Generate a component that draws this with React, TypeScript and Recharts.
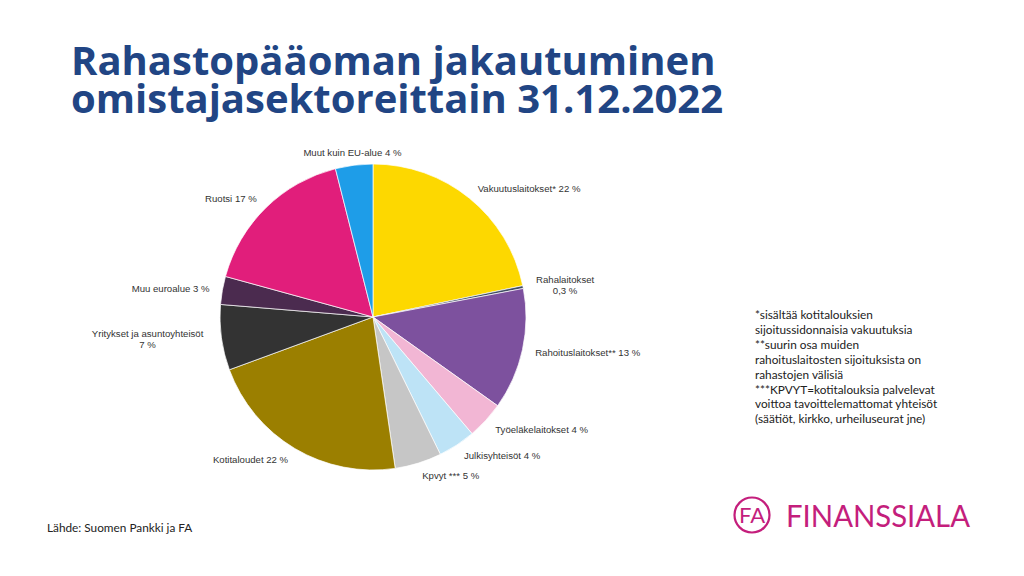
import React from "react";
import { PieChart, Pie, Cell } from "recharts";

const sectors = [
  "Vakuutuslaitokset*",
  "Rahalaitokset",
  "Rahoituslaitokset**",
  "Työeläkelaitokset",
  "Julkisyhteisöt",
  "Kpvyt ***",
  "Kotitaloudet",
  "Yritykset ja asuntoyhteisöt",
  "Muu euroalue",
  "Ruotsi",
  "Muut kuin EU-alue",
];
const shares = [22, 0.3, 13, 4, 4, 5, 22, 7, 3, 17, 4];
// labels that break the value onto a second line
const twoLine = ["Rahalaitokset", "Yritykset ja asuntoyhteisöt"];
const colors = [
  "#fdd800",
  "#3f4d63",
  "#7d519e",
  "#f2b6d4",
  "#bde3f6",
  "#c6c6c6",
  "#9b7f00",
  "#333333",
  "#4b2b4f",
  "#e11e7b",
  "#1e9de8",
];
const notes = [
  "*sisältää kotitalouksien",
  "sijoitussidonnaisia vakuutuksia",
  "**suurin osa muiden",
  "rahoituslaitosten sijoituksista on",
  "rahastojen välisiä",
  "***KPVYT=kotitalouksia palvelevat",
  "voittoa tavoittelemattomat yhteisöt",
  "(säätiöt, kirkko, urheiluseurat jne)",
];

const data = sectors.map((name, i) => ({ name, value: shares[i] }));

const RAD = Math.PI / 180;
const FS = 9.6;

const fmt = (v: number) => String(v).replace(".", ",") + " %";

function renderLabel(props: any) {
  const { cx, cy, midAngle, outerRadius, name, value } = props;
  const r = outerRadius + 13;
  const cos = Math.cos(-midAngle * RAD);
  const x = cx + r * cos;
  const y = cy + r * Math.sin(-midAngle * RAD);
  const style = { fontFamily: "Liberation Sans, Arial, sans-serif", fontSize: FS, fill: "#333" };
  if (twoLine.includes(name)) {
    const w = name.length * FS * 0.47;
    const mx = cos >= 0 ? x + w / 2 : x - w / 2;
    return (
      <text x={mx} y={y} textAnchor="middle" style={style}>
        <tspan x={mx} dy={-2}>{name}</tspan>
        <tspan x={mx} dy={11}>{fmt(value)}</tspan>
      </text>
    );
  }
  const anchor = Math.abs(cos) < 0.25 ? "middle" : cos > 0 ? "start" : "end";
  return (
    <text x={x} y={y} textAnchor={anchor} dominantBaseline="central" style={style}>
      {name} {fmt(value)}
    </text>
  );
}

export default function App() {
  return (
    <div
      style={{
        position: "absolute",
        left: 0,
        top: 0,
        width: 1024,
        height: 576,
        background: "#fff",
        overflow: "hidden",
      }}
    >
      <div
        style={{
          position: "absolute",
          left: 71,
          top: 41,
          fontFamily: "Open Sans, sans-serif",
          fontWeight: 700,
          fontSize: 40,
          lineHeight: "38px",
          color: "#214584",
          whiteSpace: "nowrap",
        }}
      >
        <div>Rahastopääoman jakautuminen</div>
        <div>omistajasektoreittain 31.12.2022</div>
      </div>

      <div style={{ position: "absolute", left: 0, top: 0 }}>
        <PieChart width={1024} height={576}>
          <Pie
            data={data}
            dataKey="value"
            nameKey="name"
            cx={368}
            cy={312}
            outerRadius={153}
            startAngle={90}
            endAngle={-270}
            stroke="#ffffff"
            strokeWidth={0.7}
            labelLine={false}
            label={renderLabel}
            isAnimationActive={false}
          >
            {data.map((d, i) => (
              <Cell key={d.name} fill={colors[i]} />
            ))}
          </Pie>
        </PieChart>
      </div>

      <div
        style={{
          position: "absolute",
          left: 755,
          top: 308,
          fontFamily: "Lato, sans-serif",
          fontSize: 11.8,
          lineHeight: "14.9px",
          color: "#222",
          whiteSpace: "nowrap",
        }}
      >
        {notes.map((n) => (
          <div key={n}>{n}</div>
        ))}
      </div>

      <div
        style={{
          position: "absolute",
          left: 47,
          top: 520,
          fontFamily: "Lato, sans-serif",
          fontSize: 11.8,
          color: "#222",
        }}
      >
        Lähde: Suomen Pankki ja FA
      </div>

      <svg
        style={{ position: "absolute", left: 0, top: 0 }}
        width={1024}
        height={576}
      >
        <circle cx={752} cy={515} r={17.5} fill="none" stroke="#c41e7c" strokeWidth={2.2} />
        <text
          x={752}
          y={523}
          textAnchor="middle"
          fontFamily="Lato, sans-serif"
          fontWeight={400}
          fontSize={22}
          fill="#c41e7c"
        >
          FA
        </text>
        <text
          x={786}
          y={527}
          fontFamily="Lato, sans-serif"
          fontWeight={400}
          fontSize={30}
          fill="#c41e7c"
          textLength={184}
          lengthAdjust="spacingAndGlyphs"
        >
          FINANSSIALA
        </text>
      </svg>
    </div>
  );
}
